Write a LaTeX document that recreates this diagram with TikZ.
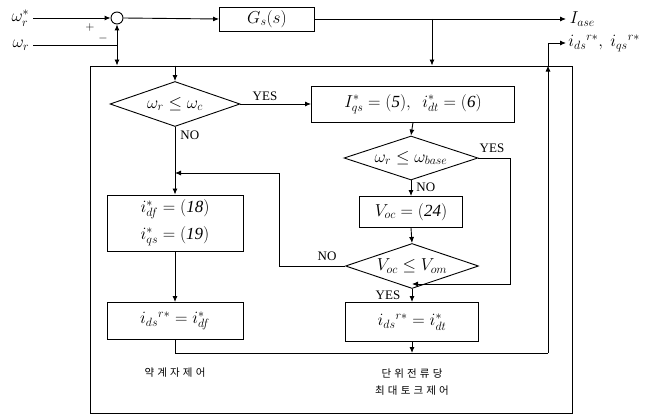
\documentclass[tikz,border=0pt]{standalone}
\usepackage{fontspec}
\setmainfont{Liberation Serif}
\newfontfamily\krfont[LetterSpace=30]{Noto Sans CJK KR}
\usetikzlibrary{arrows.meta,shapes.geometric}

\begin{document}
\begin{tikzpicture}[x=1pt, y=-1pt, line width=0.9pt,
  >={Latex[length=6pt,width=5pt]},
  every node/.style={font=\fontsize{17}{20}\selectfont},
  blk/.style={draw, rectangle, inner sep=0pt},
  cond/.style={draw, diamond, aspect=3, inner sep=0pt},
  lbl/.style={font=\fontsize{13}{15}\selectfont, inner sep=1pt},
  kr/.style={font=\fontsize{10.5}{17}\selectfont\krfont}]
  \useasboundingbox (0,0) rectangle (659,417);

  % inputs and summing point
  \node[anchor=east] (wref) at (33,18) {$\omega_r^{*}$};
  \node[anchor=east] (wr) at (33,45) {$\omega_r$};
  \node[draw, circle, minimum size=12pt, inner sep=0pt] (sum) at (117,18) {};
  \coordinate (jw) at (117,45);
  \node[lbl] (plus) at (90,28) {$+$};
  \node[lbl] (minus) at (103,39) {$-$};

  % speed controller
  \node[blk, minimum width=95pt, minimum height=24pt] (gs) at (267,19) {$G_s(s)$};
  \node[anchor=west] (iase) at (566,19) {$I_{ase}$};
  \node[anchor=west, inner sep=2pt] (ids) at (566,43) {$i_{ds}{}^{r*},\ i_{qs}{}^{r*}$};
  \coordinate (br) at (432,19);

  % outer frame
  \node[draw, minimum width=482pt, minimum height=347pt, inner sep=0pt] (frame) at (331,239.5) {};

  % decisions and blocks
  \node[cond, minimum width=130pt, minimum height=45pt] (d1) at (175,104) {$\omega_r \le \omega_c$};
  \node[blk, minimum width=203pt, minimum height=36pt] (b1) at (413,104)
    {$I_{qs}^{*}=\mathit{(5)},\ \ i_{dt}^{*}=\mathit{(6)}$};
  \node[cond, minimum width=134pt, minimum height=44pt] (d2) at (411,158) {$\omega_r \le \omega_{base}$};
  \node[blk, minimum width=103pt, minimum height=31pt] (bv) at (411,212) {$V_{oc}=\mathit{(24)}$};
  \node[cond, minimum width=133pt, minimum height=45pt] (d3) at (412,266) {$V_{oc} \le V_{om}$};
  \node[blk, minimum width=133pt, minimum height=39pt] (b4) at (412,322) {$i_{ds}{}^{r*}=i_{dt}^{*}$};
  \node[blk, minimum width=136pt, minimum height=56pt, align=center] (b2) at (175,223)
    {$i_{df}^{*}=\mathit{(18)}$\\[7pt]$i_{qs}^{*}=\mathit{(19)}$};
  \node[blk, minimum width=136pt, minimum height=37pt] (b3) at (175,321) {$i_{ds}{}^{r*}=i_{df}^{*}$};

  % labels
  \node[lbl] (yes1) at (265,96) {YES};
  \node[lbl, anchor=west] (no1) at (179,135) {NO};
  \node[lbl] (yes2) at (492,148) {YES};
  \node[lbl, anchor=west] (no2) at (415,187) {NO};
  \node[lbl] (no3) at (327,256) {NO};
  \node[lbl] (yes3) at (388,295) {YES};
  \node[kr] (fw) at (175,373) {약계자제어};
  \node[kr, align=center] (mtpa) at (412,382) {단위전류당\\최대토크제어};

  % reference paths
  \draw[->] (wref.east) -- (sum.west);
  \draw (wr.east) -- (jw);
  \draw[->] (jw) -- (sum.south);
  \draw[->] (jw) -- (jw |- frame.north);
  \draw[->] (sum.east) -- (gs.west);
  \draw[->] (gs.east) -- (iase.west);
  \draw[->] (br) -- (br |- frame.north);

  % flow inside
  \draw[->] (d1.north |- frame.north) -- (d1.north);
  \draw[->] (d1.east) -- (b1.west);
  \draw[->] (d1.south) -- (b2.north);
  \draw[->] (b1.south) -- (d2.north);
  \draw[->] (d2.south) -- (bv.north);
  \draw[->] (bv.south) -- (d3.north);
  \draw[->] (d3.south) -- (b4.north);
  \draw[->] (b2.south) -- (b3.north);

  % loops back
  \coordinate (lp) at (279,173);
  \draw[->] (d3.west) -| (lp) -- (lp -| d1.south);
  \coordinate (yp) at (510,284);
  \draw[->] (d2.east) -| (yp) -- (yp -| d3.south);

  % output bus
  \coordinate (bus) at (548,353);
  \draw (b3.south) |- (bus);
  \draw[->] (b4.south) -- (b4.south |- bus);
  \draw[->] (bus) -- (bus |- frame.north);
  \draw[->] (bus |- frame.north) |- (ids.west);
\end{tikzpicture}
\end{document}
